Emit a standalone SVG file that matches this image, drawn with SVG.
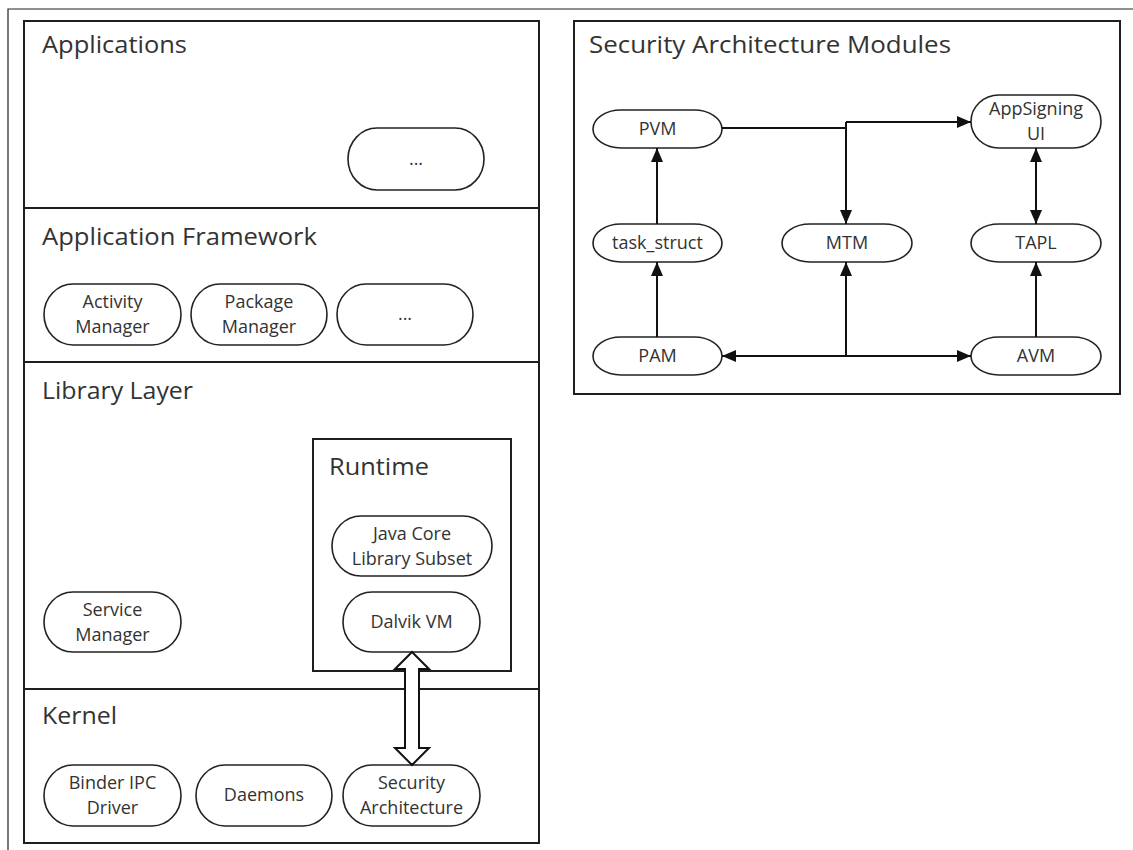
<svg xmlns="http://www.w3.org/2000/svg" width="1133" height="850" viewBox="0 0 1133 850">
  <style>
    .frame { fill: none; stroke: #222; stroke-width: 1.2; }
    .box { fill: #fff; stroke: #1e1e1e; stroke-width: 2; }
    .div { stroke: #1e1e1e; stroke-width: 2; }
    .node { fill: #fff; stroke: #222; stroke-width: 1.6; }
    .title { font-family: "Open Sans", "Liberation Sans", sans-serif; font-size: 23px; fill: #333; }
    .lbl { font-family: "Open Sans", "Liberation Sans", sans-serif; font-size: 18px; fill: #333; text-anchor: middle; }
    .conn { fill: none; stroke: #111; stroke-width: 2; }
    .hollow { fill: #fff; stroke: #111; stroke-width: 2; stroke-linejoin: miter; }
  </style>
  <defs>
    <marker id="arrow" markerUnits="userSpaceOnUse" markerWidth="14" markerHeight="12" refX="14" refY="6" orient="auto-start-reverse">
      <path d="M0,0 L14,6 L0,12 Z" fill="#111"/>
    </marker>
  </defs>

  <rect width="1133" height="850" fill="#fff"/>

  <!-- page frame: top and left rules -->
  <path class="frame" d="M8,850 V9 H1133"/>

  <!-- Android layer stack -->
  <g id="layer-stack">
    <rect class="box" x="24" y="21" width="515" height="822"/>
    <line class="div" x1="24" y1="208" x2="539" y2="208"/>
    <line class="div" x1="24" y1="362" x2="539" y2="362"/>
    <line class="div" x1="24" y1="689" x2="539" y2="689"/>
  </g>

  <g id="applications">
    <text class="title" x="42" y="53" textLength="145" lengthAdjust="spacingAndGlyphs">Applications</text>
  </g>
  <g id="app-more">
    <rect class="node" x="348" y="128" width="136" height="62" rx="29" ry="31"/>
    <text class="lbl" x="416" y="165">...</text>
  </g>

  <g id="application-framework">
    <text class="title" x="42" y="245" textLength="275" lengthAdjust="spacingAndGlyphs">Application Framework</text>
  </g>
  <g id="activity-manager">
    <rect class="node" x="44" y="284" width="137" height="61" rx="29" ry="30.5"/>
    <text class="lbl" x="112.5" y="308">Activity</text>
    <text class="lbl" x="112.5" y="333">Manager</text>
  </g>
  <g id="package-manager">
    <rect class="node" x="191" y="284" width="136" height="61" rx="29" ry="30.5"/>
    <text class="lbl" x="259" y="308">Package</text>
    <text class="lbl" x="259" y="333">Manager</text>
  </g>
  <g id="framework-more">
    <rect class="node" x="337" y="284" width="136" height="61" rx="29" ry="30.5"/>
    <text class="lbl" x="405" y="320">...</text>
  </g>

  <g id="library-layer">
    <text class="title" x="42" y="399" textLength="151" lengthAdjust="spacingAndGlyphs">Library Layer</text>
  </g>
  <g id="service-manager">
    <rect class="node" x="44" y="592" width="137" height="60" rx="29" ry="30"/>
    <text class="lbl" x="112.5" y="616">Service</text>
    <text class="lbl" x="112.5" y="641">Manager</text>
  </g>

  <g id="runtime">
    <rect class="box" x="313" y="439" width="198" height="232"/>
    <text class="title" x="329" y="475" textLength="100" lengthAdjust="spacingAndGlyphs">Runtime</text>
  </g>
  <g id="java-core">
    <rect class="node" x="332" y="516" width="160" height="60" rx="29" ry="30"/>
    <text class="lbl" x="412" y="540">Java Core</text>
    <text class="lbl" x="412" y="565">Library Subset</text>
  </g>
  <g id="dalvik-vm">
    <rect class="node" x="343" y="592" width="137" height="60" rx="29" ry="30"/>
    <text class="lbl" x="411.5" y="628">Dalvik VM</text>
  </g>

  <g id="kernel">
    <text class="title" x="42" y="724" textLength="75" lengthAdjust="spacingAndGlyphs">Kernel</text>
  </g>
  <g id="binder-ipc">
    <rect class="node" x="44" y="765" width="137" height="61" rx="29" ry="30.5"/>
    <text class="lbl" x="112.5" y="789">Binder IPC</text>
    <text class="lbl" x="112.5" y="814">Driver</text>
  </g>
  <g id="daemons">
    <rect class="node" x="196" y="765" width="136" height="61" rx="29" ry="30.5"/>
    <text class="lbl" x="264" y="801">Daemons</text>
  </g>
  <g id="security-architecture">
    <rect class="node" x="343" y="765" width="137" height="61" rx="29" ry="30.5"/>
    <text class="lbl" x="411.5" y="789">Security</text>
    <text class="lbl" x="411.5" y="814">Architecture</text>
  </g>

  <!-- Security architecture modules panel -->
  <g id="security-modules">
    <rect class="box" x="574" y="21" width="546" height="373"/>
    <text class="title" x="589" y="53" textLength="362" lengthAdjust="spacingAndGlyphs">Security Architecture Modules</text>
  </g>
  <g id="pvm">
    <rect class="node" x="593" y="110" width="129" height="38" rx="28" ry="19"/>
    <text class="lbl" x="657.5" y="135">PVM</text>
  </g>
  <g id="appsigning-ui">
    <rect class="node" x="971" y="95" width="130" height="53" rx="28" ry="26.5"/>
    <text class="lbl" x="1036" y="115">AppSigning</text>
    <text class="lbl" x="1036" y="140">UI</text>
  </g>
  <g id="task-struct">
    <rect class="node" x="593" y="224" width="129" height="38" rx="28" ry="19"/>
    <text class="lbl" x="657.5" y="249">task_struct</text>
  </g>
  <g id="mtm">
    <rect class="node" x="782" y="224" width="130" height="38" rx="28" ry="19"/>
    <text class="lbl" x="847" y="249">MTM</text>
  </g>
  <g id="tapl">
    <rect class="node" x="971" y="224" width="130" height="38" rx="28" ry="19"/>
    <text class="lbl" x="1036" y="249">TAPL</text>
  </g>
  <g id="pam">
    <rect class="node" x="593" y="337" width="129" height="38" rx="28" ry="19"/>
    <text class="lbl" x="657.5" y="362">PAM</text>
  </g>
  <g id="avm">
    <rect class="node" x="971" y="337" width="130" height="38" rx="28" ry="19"/>
    <text class="lbl" x="1036" y="362">AVM</text>
  </g>

  <!-- connectors -->
  <g id="connectors">
    <path class="hollow" d="M412,652 L429,669 L419,669 L419,748 L429,748 L412,765 L395,748 L405,748 L405,669 L395,669 Z"/>
    <path class="conn" d="M722,128 H846"/>
    <path class="conn" d="M846,122 V224" marker-end="url(#arrow)"/>
    <path class="conn" d="M846,122 H971" marker-end="url(#arrow)"/>
    <path class="conn" d="M657,224 V148" marker-end="url(#arrow)"/>
    <path class="conn" d="M657,337 V262" marker-end="url(#arrow)"/>
    <path class="conn" d="M846,356 V262" marker-end="url(#arrow)"/>
    <path class="conn" d="M846,356 H722" marker-end="url(#arrow)"/>
    <path class="conn" d="M846,356 H971" marker-end="url(#arrow)"/>
    <path class="conn" d="M1036,337 V262" marker-end="url(#arrow)"/>
    <path class="conn" d="M1036,224 V148" marker-start="url(#arrow)" marker-end="url(#arrow)"/>
  </g>
</svg>
